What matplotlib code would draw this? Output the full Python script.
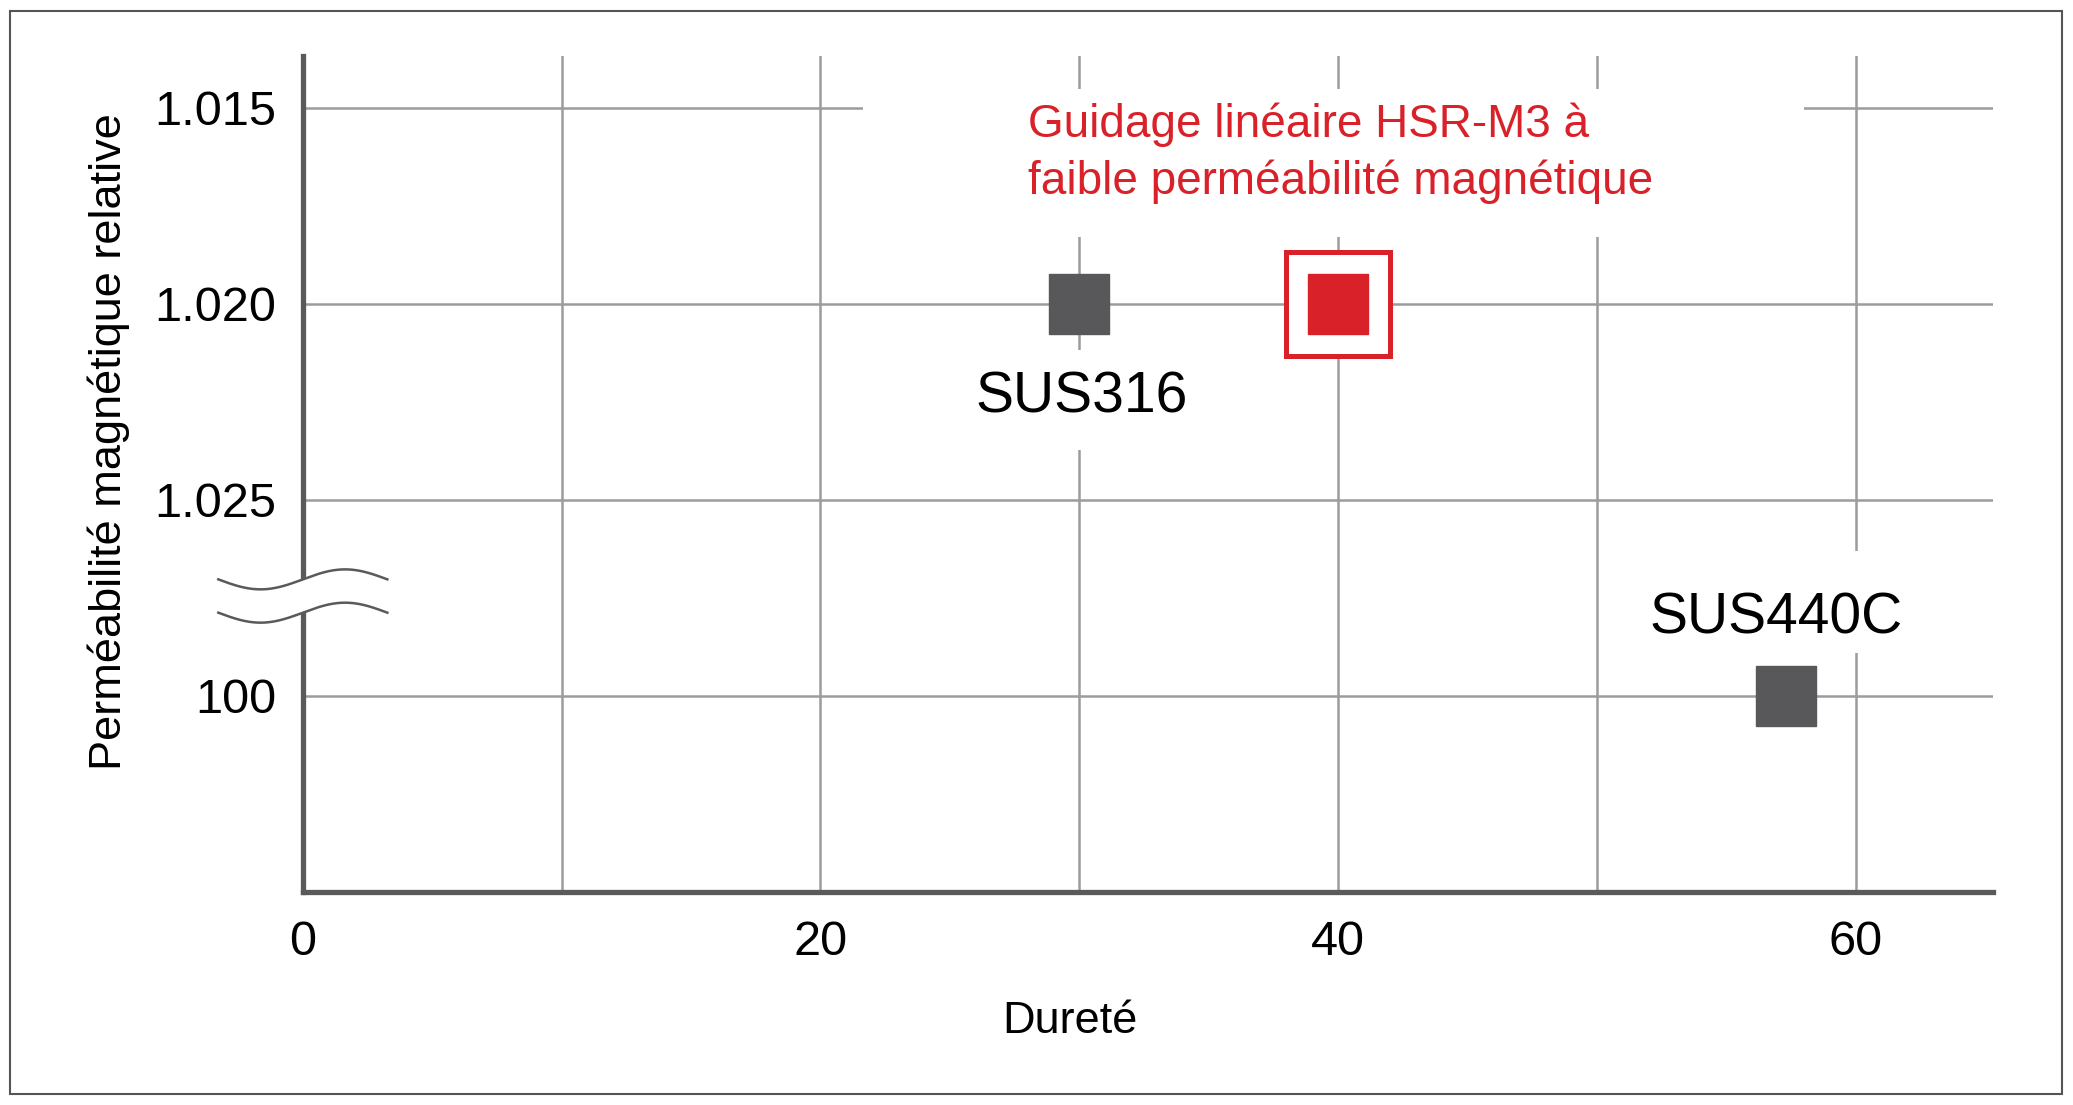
import numpy as np
import matplotlib
matplotlib.use('Agg')
import matplotlib.pyplot as plt
from matplotlib.patches import Rectangle

plt.rcParams['font.family'] = ['Liberation Sans', 'DejaVu Sans']

# data
materials = ['SUS316', 'HSR-M3', 'SUS440C']
hardness = [30, 40, 57.3]
permeability = ['1.020', '1.020', '100']
ytick_labels = ['100', '1.025', '1.020', '1.015']   # bottom -> top, axis is broken
xtick_values = [0, 20, 40, 60]
xgrid_minor = [10, 30, 50]
red_label = 'Guidage linéaire HSR-M3 à\nfaible perméabilité magnétique'

GREY = '#58585a'
RED = '#d9212a'
GRID = '#9c9c9e'
SPINE = '#5a5a5a'

# broken axis: each label sits on its own row
ypos = [ytick_labels.index(v) + 1 for v in permeability]

fig = plt.figure(figsize=(20.73, 11.05), dpi=100)
W, H = 2073, 1105
ax = fig.add_axes([302.7 / W, 1 - 891.5 / H, (1993 - 302.7) / W, (891.5 - 56) / H])

ax.set_xlim(0, 65.3)
ax.set_ylim(0, 4.264)

ax.set_xticks(xtick_values)
ax.set_xticks(xgrid_minor, minor=True)
ax.set_yticks(range(1, len(ytick_labels) + 1))
ax.set_yticklabels(ytick_labels)
ax.tick_params(which='both', length=0)
ax.tick_params(axis='x', pad=20.5, labelsize=35)
ax.tick_params(axis='y', pad=19.2, labelsize=35)

ax.set_axisbelow(True)
ax.grid(which='both', color=GRID, linewidth=1.8)

for s in ['top', 'right']:
    ax.spines[s].set_visible(False)
for s in ['left', 'bottom']:
    ax.spines[s].set_color(SPINE)
    ax.spines[s].set_linewidth(3.8)

# white areas that break the grid behind the labels
for (x0, x1, y0, y1) in [(21.66, 58.0, 3.342, 4.094),
                         (25.5, 34.7, 2.253, 2.763),
                         (51.5, 62.5, 1.216, 1.739)]:
    ax.add_patch(Rectangle((x0, y0), x1 - x0, y1 - y0, facecolor='white',
                           edgecolor='none', zorder=1))

# markers
for name, x, y in zip(materials, hardness, ypos):
    if name == 'HSR-M3':
        ax.plot(x, y, marker='s', markersize=75.6, markerfacecolor='white',
                markeredgecolor=RED, markeredgewidth=3.6, zorder=3)
        ax.plot(x, y, marker='s', markersize=43.6, color=RED, zorder=4)
    else:
        ax.plot(x, y, marker='s', markersize=43.6, color=GREY, zorder=4)

# labels
ax.annotate('SUS316', (hardness[0], ypos[0]), xytext=(1.6, -78.6),
            textcoords='offset points', ha='center', va='baseline',
            fontsize=41, color='black', zorder=5)
ax.annotate('SUS440C', (hardness[2], ypos[2]), xytext=(-7.2, 44.5),
            textcoords='offset points', ha='center', va='baseline',
            fontsize=41, color='black', zorder=5)
# anchored on the baseline of the last line
ax.annotate(red_label, (hardness[1], ypos[1]), xytext=(-223.6, 78.9),
            textcoords='offset points', ha='left', va='baseline',
            fontsize=33, color=RED, linespacing=1.37, zorder=5)

# axis break marks
xb = np.linspace(-3.26, 3.27, 200)
wave = -0.051 * np.sin(2 * np.pi * (xb - xb[0]) / (xb[-1] - xb[0]))
ax.fill_between(xb, 1.423 + wave, 1.593 + wave, color='white', lw=0,
                clip_on=False, zorder=6)
for c in [1.593, 1.423]:
    ax.plot(xb, c + wave, color=SPINE, linewidth=1.8, clip_on=False, zorder=7)

# axis titles
fig.text(1070 / W, 1 - 1033.4 / H, 'Dureté', ha='center', va='baseline',
         fontsize=32.5)
fig.text(121.5 / W, 1 - 442 / H, 'Perméabilité magnétique relative',
         rotation=90, rotation_mode='anchor', ha='center', va='baseline',
         fontsize=32.5)

# outer frame
fig.patches.append(Rectangle((10 / W, 1 - 1093.5 / H), 2052 / W, 1083 / H,
                             transform=fig.transFigure, fill=False,
                             edgecolor='#555555', linewidth=1.5))

fig.savefig('out.png', dpi=100)
